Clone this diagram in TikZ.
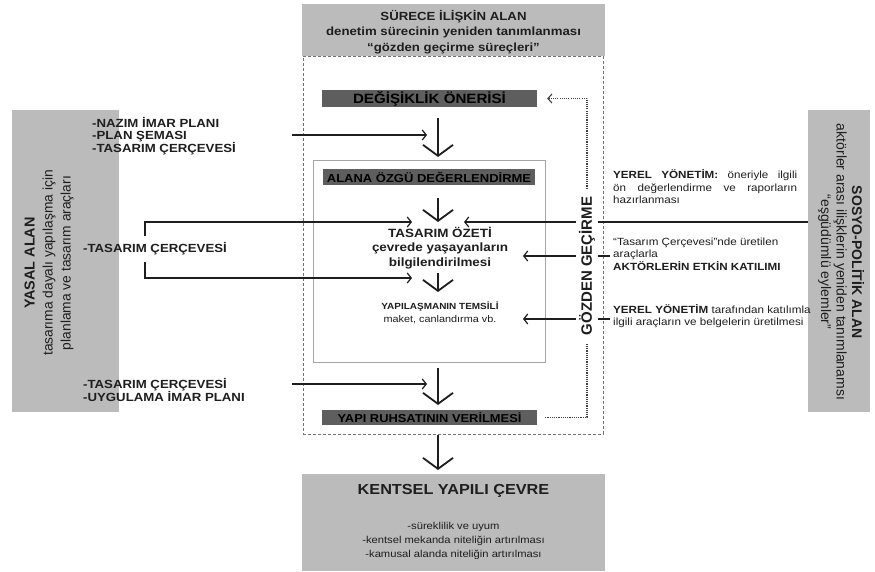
\documentclass[tikz,border=0pt]{standalone}
\usepackage{fontspec}
\setmainfont{Liberation Sans}[FakeStretch=1.12]
\newfontfamily\rotfont{Liberation Sans}
\usetikzlibrary{arrows.meta,calc}
\definecolor{boxgray}{HTML}{BBBBBB}
\definecolor{bargray}{HTML}{5E5E5E}
\definecolor{ink}{HTML}{1E1E1E}
\begin{document}
\begin{tikzpicture}[x=1pt,y=-1pt,
  graybox/.style={fill=boxgray,draw=none,inner sep=0pt},
  darkbar/.style={fill=bargray,draw=none,inner sep=0pt,text=black},
  lbl/.style={inner sep=0pt,text=ink},
  bigarr/.style={draw=ink,line width=1.8pt,-{Straight Barb[length=11pt,width=30pt]}},
  smallarr/.style={draw=ink,line width=1.2pt,-{Straight Barb[length=4pt,width=10pt]}},
  fbline/.style={draw=black!75,line width=1.1pt,dash pattern=on 1.1pt off 1.1pt},
  framestyle/.style={draw=black!55,line width=0.9pt,dash pattern=on 3pt off 2pt}]
\fill[white] (0,0) rectangle (875,572);
\useasboundingbox (0,0) rectangle (875,572);

% dashed process frame
\node[framestyle,minimum width=300,minimum height=378,inner sep=0pt] (frame) at (453,245) {};

% top box
\node[graybox,minimum width=303,minimum height=52] (surecbox) at (453.5,30) {};
\node[lbl,align=center,font=\fontsize{11.8}{15.5}\selectfont\bfseries] (surec) at (453.5,32)
  {SÜRECE İLİŞKİN ALAN\\denetim sürecinin yeniden tanımlanması\\“gözden geçirme süreçleri”};

% inner box
\node[draw=black!35,line width=0.8pt,minimum width=232,minimum height=202,inner sep=0pt] (alan) at (429,261) {};

% dark bars
\node[darkbar,minimum width=215,minimum height=17,font=\fontsize{13.5}{14}\selectfont\bfseries] (oneri) at (429.5,98.5) {DEĞİŞİKLİK ÖNERİSİ};
\node[darkbar,minimum width=212,minimum height=16,font=\fontsize{11.6}{13}\selectfont\bfseries] (ozgu) at (429,177.5) {ALANA ÖZGÜ DEĞERLENDİRME};
\node[darkbar,minimum width=215,minimum height=15,font=\fontsize{11.5}{13}\selectfont\bfseries] (ruhsat) at (429.5,417.5) {YAPI RUHSATININ VERİLMESİ};

% centre texts
\node[lbl,align=center,font=\fontsize{12}{14.5}\selectfont\bfseries] (ozet) at (440,248)
  {TASARIM ÖZETİ\\çevrede yaşayanların\\bilgilendirilmesi};
\node[lbl,font=\fontsize{8.9}{11}\selectfont\bfseries] (temsil) at (440,307) {YAPILAŞMANIN TEMSİLİ};
\node[lbl,font=\fontsize{9.7}{11}\selectfont] (maket) at (440,319.5) {maket, canlandırma vb.};

% bottom box
\node[graybox,minimum width=303,minimum height=97] (kentselbox) at (453.5,522.5) {};
\node[lbl,font=\fontsize{14.5}{16}\selectfont\bfseries] (kentsel) at (453.5,491) {KENTSEL YAPILI ÇEVRE};
\node[lbl,align=center,font=\fontsize{10}{14}\selectfont] (kentlist) at (453.5,541)
  {-süreklilik ve uyum\\-kentsel mekanda niteliğin artırılması\\-kamusal alanda niteliğin artırılması};

% left box
\node[graybox,minimum width=107,minimum height=302] (yasalbox) at (65.5,261) {};
\node[lbl,rotate=90,align=center,font=\rotfont\fontsize{13.8}{18}\selectfont] (yasal) at (49,263)
  {{\bfseries\fontsize{14.4}{18}\selectfont YASAL ALAN}\\tasarıma dayalı yapılaşma için\\planlama ve tasarım araçları};
\node[lbl,anchor=west,align=left,font=\fontsize{11.8}{12.8}\selectfont\bfseries] (plan1) at (92,136)
  {-NAZIM İMAR PLANI\\-PLAN ŞEMASI\\-TASARIM ÇERÇEVESİ};
\node[lbl,anchor=west,font=\fontsize{11.8}{12.8}\selectfont\bfseries] (plan2) at (83,249) {-TASARIM ÇERÇEVESİ};
\node[lbl,anchor=west,align=left,font=\fontsize{11.8}{12.8}\selectfont\bfseries] (plan3) at (83,390)
  {-TASARIM ÇERÇEVESİ\\-UYGULAMA İMAR PLANI};

% right box
\node[graybox,minimum width=62,minimum height=302] (sosyobox) at (839,261) {};
\node[lbl,rotate=-90,align=center,font=\rotfont\fontsize{14}{15.5}\selectfont] (sosyo) at (841,262)
  {{\bfseries SOSYO-POLİTİK ALAN}\\aktörler arası ilişklerin yeniden tanımlanamsı\\“eşgüdümlü eylemler”};

% right texts
\node[lbl,anchor=west,align=left,font=\fontsize{10.4}{12.5}\selectfont] (yerel1) at (613,187)
  {\makebox[184pt][s]{\bfseries YEREL YÖNETİM:\mdseries\ öneriyle ilgili}\\\makebox[184pt][s]{ön değerlendirme ve raporların}\\hazırlanması};
\node[lbl,anchor=west,align=left,font=\fontsize{10.4}{12.5}\selectfont] (aktor) at (613,254)
  {“Tasarım Çerçevesi”nde üretilen\\araçlarla\\\textbf{AKTÖRLERİN ETKİN KATILIMI}};
\node[lbl,anchor=west,align=left,font=\fontsize{10.4}{12.5}\selectfont] (yerel2) at (613,316)
  {\textbf{YEREL YÖNETİM} tarafından katılımla\\ilgili araçların ve belgelerin üretilmesi};

% connector end points
\coordinate (a1s) at (438,118); \coordinate (a1e) at (438,157);
\coordinate (a2s) at (438,198); \coordinate (a2e) at (438,222);
\coordinate (a3s) at (438,273); \coordinate (a3e) at (438,292);
\coordinate (a4s) at (438,368); \coordinate (a4e) at (438,405);
\coordinate (a5s) at (438,435); \coordinate (a5e) at (438,470);
\coordinate (l1s) at (292,135); \coordinate (l1e) at (427,135);
\coordinate (l2s) at (145,236); \coordinate (l2m) at (145,222); \coordinate (l2e) at (412,222);
\coordinate (l3s) at (145,262); \coordinate (l3m) at (145,278); \coordinate (l3e) at (412,278);
\coordinate (l4s) at (292,384); \coordinate (l4e) at (427,384);
\coordinate (r1e) at (464,222);
\coordinate (r2s) at (610,256); \coordinate (r2e) at (523,256);
\coordinate (r3s) at (610,319); \coordinate (r3e) at (523,319);
\coordinate (fb) at (587,266);

% main flow
\draw[bigarr] (a1s) -- (a1e);
\draw[bigarr] (a2s) -- (a2e);
\draw[bigarr] (a3s) -- (a3e);
\draw[bigarr] (a4s) -- (a4e);
\draw[bigarr] (a5s) -- (a5e);

% legal inputs
\draw[smallarr] (l1s) -- (l1e);
\draw[smallarr] (l2s) -- (l2m) -- (l2e);
\draw[smallarr] (l3s) -- (l3m) -- (l3e);
\draw[smallarr] (l4s) -- (l4e);

% socio-political inputs
\draw[smallarr] (sosyobox.west |- r1e) -- (r1e);
\draw[smallarr] (r2s) -- (r2e);
\draw[smallarr] (r3s) -- (r3e);

% feedback loop
\draw[fbline,-{Straight Barb[length=4pt,width=9pt]}] ($(ruhsat.east)+(8,0)$) -| (fb) |- ($(oneri.east)+(10,0)$);

\node[lbl,rotate=90,fill=white,inner xsep=8pt,inner ysep=3pt,font=\rotfont\fontsize{15}{15}\selectfont\bfseries] (gozden) at (fb) {GÖZDEN GEÇİRME};
\end{tikzpicture}
\end{document}
